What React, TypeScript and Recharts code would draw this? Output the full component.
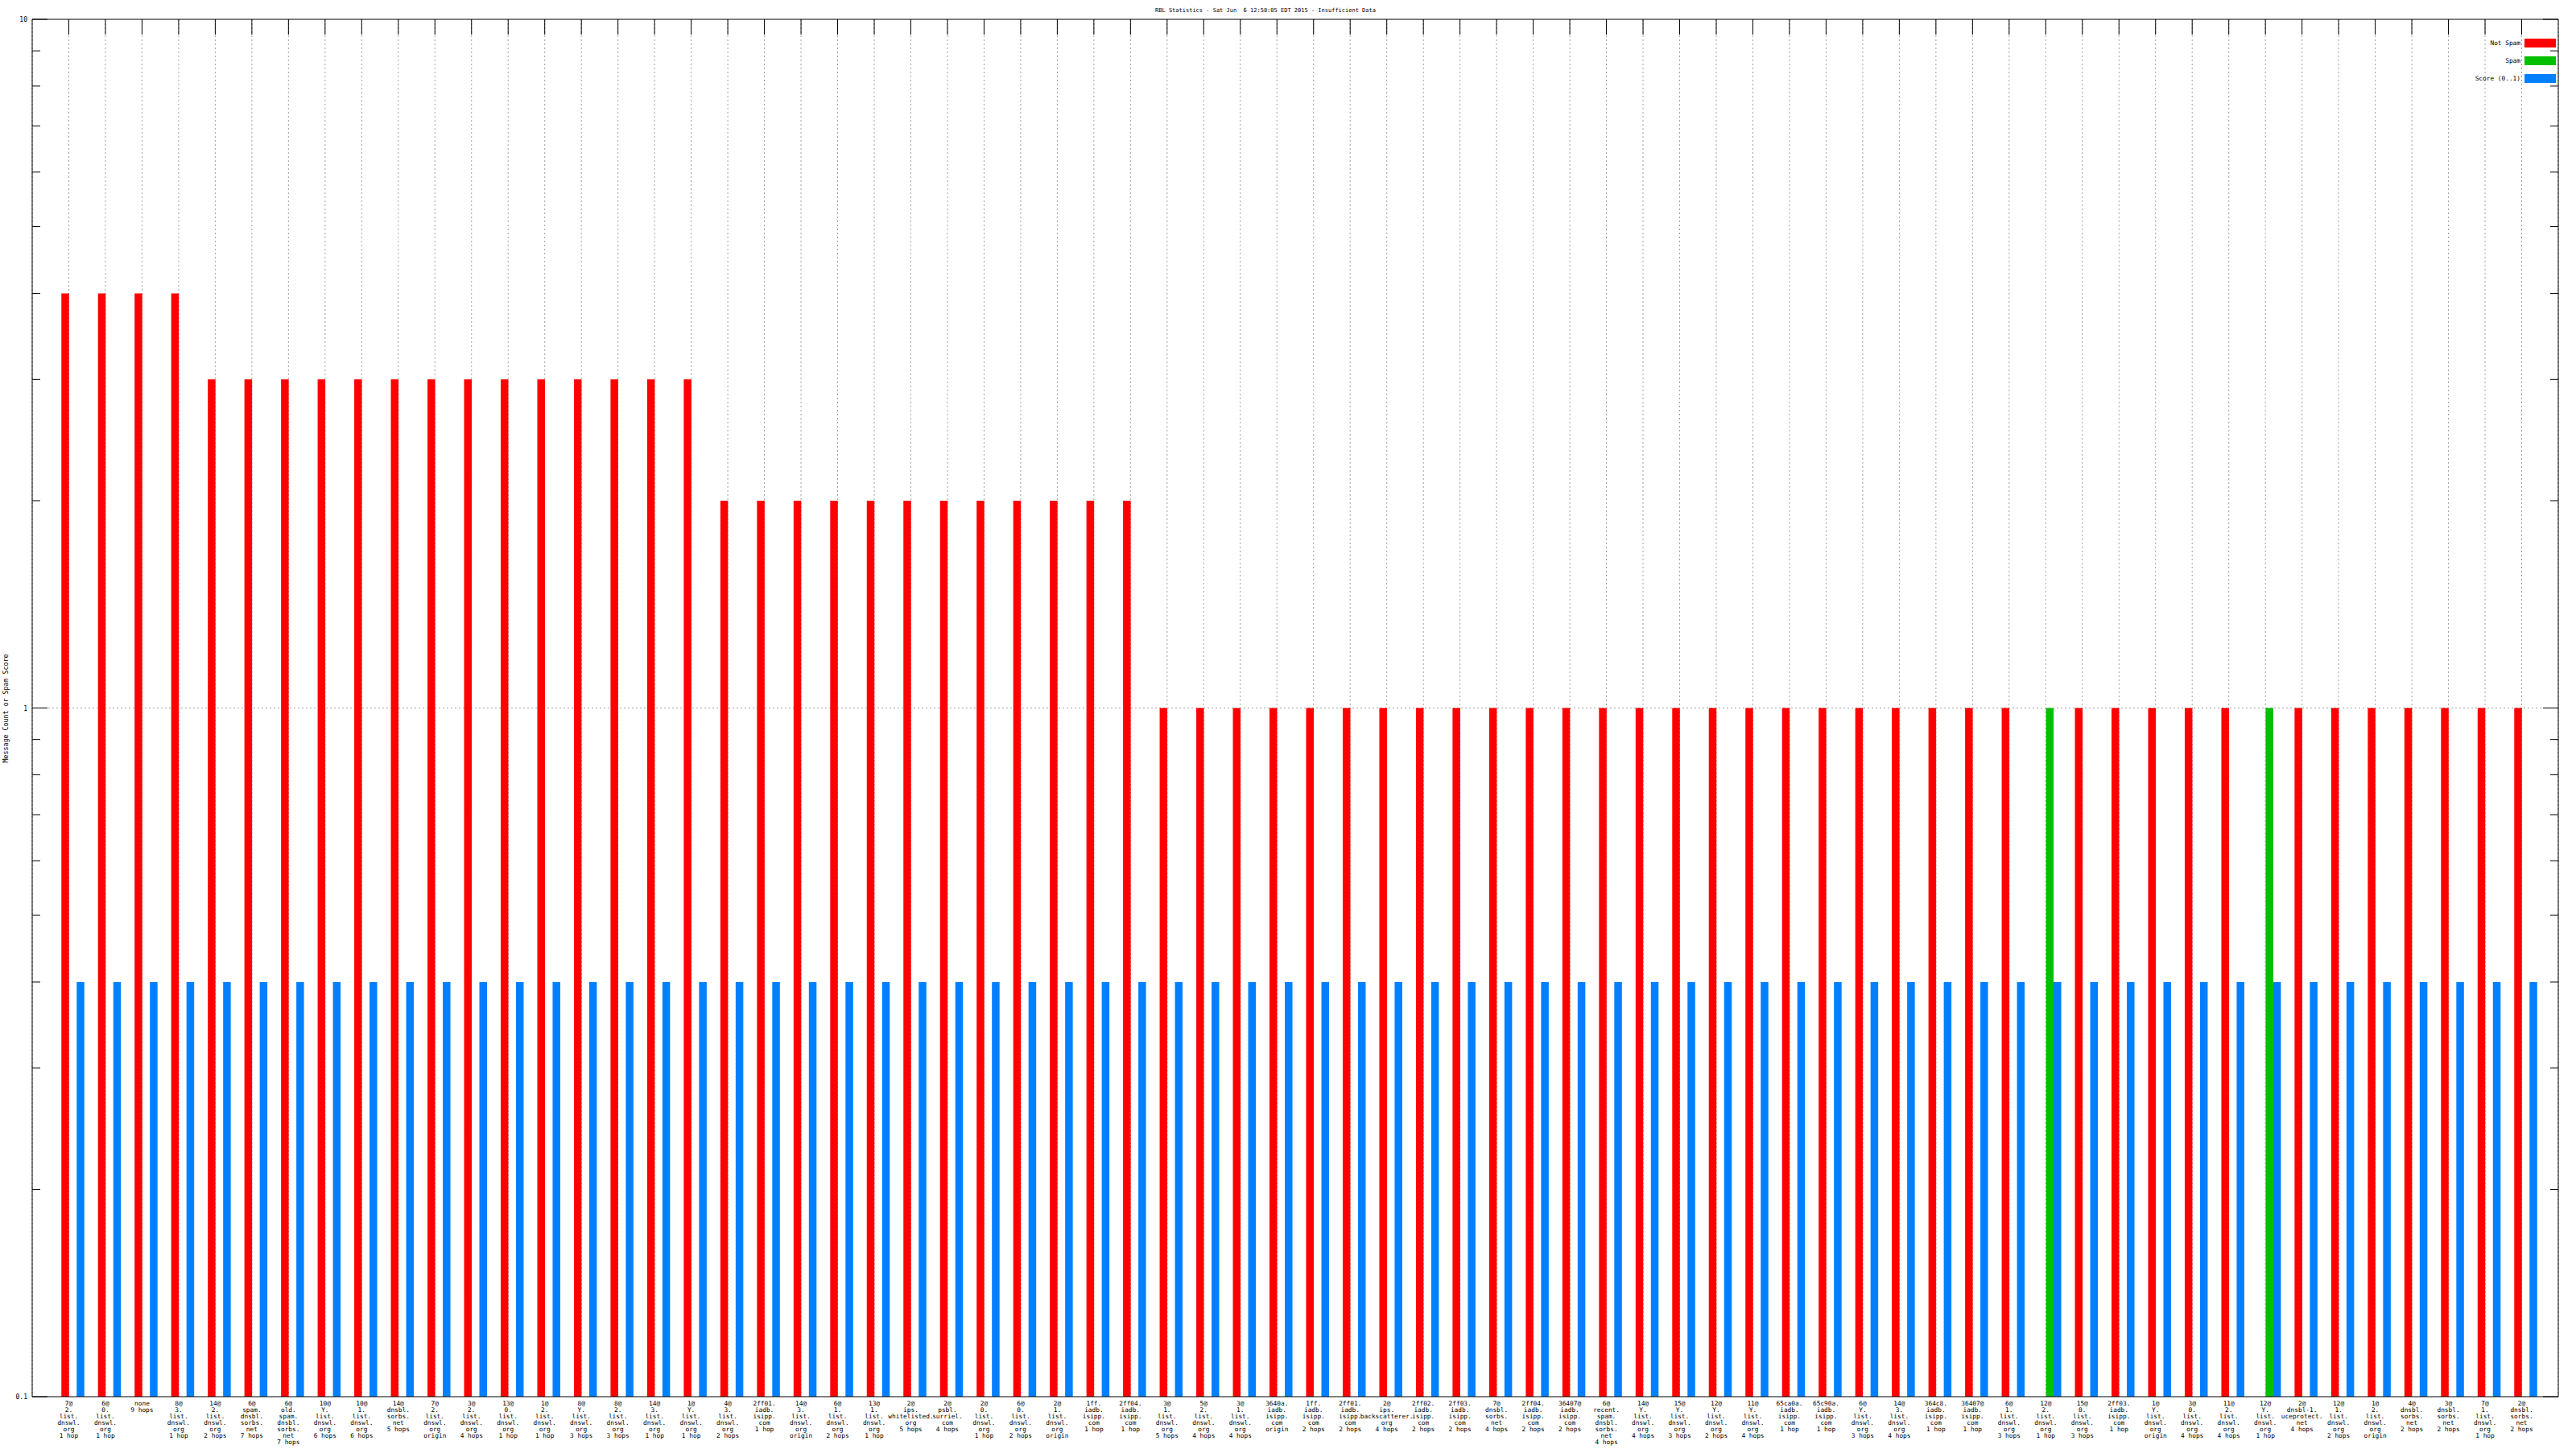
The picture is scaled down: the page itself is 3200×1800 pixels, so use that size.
import React from "react";
import { Bar, BarChart, CartesianGrid, XAxis, YAxis } from "recharts";

const labels = [
  "7@2.list.dnswl.org 1 hop",
  "6@0.list.dnswl.org 1 hop",
  "none 9 hops",
  "8@3.list.dnswl.org 1 hop",
  "14@2.list.dnswl.org 2 hops",
  "6@spam.dnsbl.sorbs.net 7 hops",
  "6@old.spam.dnsbl.sorbs.net 7 hops",
  "10@Y.list.dnswl.org 6 hops",
  "10@1.list.dnswl.org 6 hops",
  "14@dnsbl.sorbs.net 5 hops",
  "7@2.list.dnswl.org origin",
  "3@2.list.dnswl.org 4 hops",
  "13@0.list.dnswl.org 1 hop",
  "1@2.list.dnswl.org 1 hop",
  "8@Y.list.dnswl.org 3 hops",
  "8@2.list.dnswl.org 3 hops",
  "14@3.list.dnswl.org 1 hop",
  "1@Y.list.dnswl.org 1 hop",
  "4@3.list.dnswl.org 2 hops",
  "2ff01.iadb.isipp.com 1 hop",
  "14@3.list.dnswl.org origin",
  "6@1.list.dnswl.org 2 hops",
  "13@1.list.dnswl.org 1 hop",
  "2@ips.whitelisted.org 5 hops",
  "2@psbl.surriel.com 4 hops",
  "2@0.list.dnswl.org 1 hop",
  "6@0.list.dnswl.org 2 hops",
  "2@1.list.dnswl.org origin",
  "1ff.iadb.isipp.com 1 hop",
  "2ff04.iadb.isipp.com 1 hop",
  "3@1.list.dnswl.org 5 hops",
  "5@2.list.dnswl.org 4 hops",
  "3@1.list.dnswl.org 4 hops",
  "3640a.iadb.isipp.com origin",
  "1ff.iadb.isipp.com 2 hops",
  "2ff01.iadb.isipp.com 2 hops",
  "2@ips.backscatterer.org 4 hops",
  "2ff02.iadb.isipp.com 2 hops",
  "2ff03.iadb.isipp.com 2 hops",
  "7@dnsbl.sorbs.net 4 hops",
  "2ff04.iadb.isipp.com 2 hops",
  "36407@iadb.isipp.com 2 hops",
  "6@recent.spam.dnsbl.sorbs.net 4 hops",
  "14@Y.list.dnswl.org 4 hops",
  "15@Y.list.dnswl.org 3 hops",
  "12@Y.list.dnswl.org 2 hops",
  "11@Y.list.dnswl.org 4 hops",
  "65ca0a.iadb.isipp.com 1 hop",
  "65c90a.iadb.isipp.com 1 hop",
  "6@Y.list.dnswl.org 3 hops",
  "14@3.list.dnswl.org 4 hops",
  "364c8.iadb.isipp.com 1 hop",
  "36407@iadb.isipp.com 1 hop",
  "6@1.list.dnswl.org 3 hops",
  "12@2.list.dnswl.org 1 hop",
  "15@0.list.dnswl.org 3 hops",
  "2ff03.iadb.isipp.com 1 hop",
  "1@Y.list.dnswl.org origin",
  "3@0.list.dnswl.org 4 hops",
  "11@2.list.dnswl.org 4 hops",
  "12@Y.list.dnswl.org 1 hop",
  "2@dnsbl-1.uceprotect.net 4 hops",
  "12@1.list.dnswl.org 2 hops",
  "1@2.list.dnswl.org origin",
  "4@dnsbl.sorbs.net 2 hops",
  "3@dnsbl.sorbs.net 2 hops",
  "7@1.list.dnswl.org 1 hop",
  "2@dnsbl.sorbs.net 2 hops",
];

// message counts, null where the bar is missing
const notSpam = [
  4, 4, 4, 4, 3, 3, 3, 3, 3, 3,
  3, 3, 3, 3, 3, 3, 3, 3, 2, 2,
  2, 2, 2, 2, 2, 2, 2, 2, 2, 2,
  1, 1, 1, 1, 1, 1, 1, 1, 1, 1,
  1, 1, 1, 1, 1, 1, 1, 1, 1, 1,
  1, 1, 1, 1, null, 1, 1, 1, 1, 1,
  null, 1, 1, 1, 1, 1, 1, 1,
];

const spam = [
  null, null, null, null, null, null, null, null, null, null,
  null, null, null, null, null, null, null, null, null, null,
  null, null, null, null, null, null, null, null, null, null,
  null, null, null, null, null, null, null, null, null, null,
  null, null, null, null, null, null, null, null, null, null,
  null, null, null, null, 1, null, null, null, null, null,
  1, null, null, null, null, null, null, null,
];

const score = [
  0.4, 0.4, 0.4, 0.4, 0.4, 0.4, 0.4, 0.4, 0.4, 0.4,
  0.4, 0.4, 0.4, 0.4, 0.4, 0.4, 0.4, 0.4, 0.4, 0.4,
  0.4, 0.4, 0.4, 0.4, 0.4, 0.4, 0.4, 0.4, 0.4, 0.4,
  0.4, 0.4, 0.4, 0.4, 0.4, 0.4, 0.4, 0.4, 0.4, 0.4,
  0.4, 0.4, 0.4, 0.4, 0.4, 0.4, 0.4, 0.4, 0.4, 0.4,
  0.4, 0.4, 0.4, 0.4, 0.4, 0.4, 0.4, 0.4, 0.4, 0.4,
  0.4, 0.4, 0.4, 0.4, 0.4, 0.4, 0.4, 0.4,
];

const majorTicks = [0.1, 1, 10];
const yTicks = [0.1, 0.2, 0.3, 0.4, 0.5, 0.6, 0.7, 0.8, 0.9, 1, 2, 3, 4, 5, 6, 7, 8, 9, 10];

const legendItems = [
  { name: "Not Spam", color: "#ff0000" },
  { name: "Spam", color: "#00c000" },
  { name: "Score (0..1)", color: "#0080ff" },
];

const data = labels.map((label, i) => ({
  label,
  notSpam: notSpam[i],
  spam: spam[i],
  score: score[i],
}));

const FONT = "'DejaVu Sans Mono', monospace";

// "7@2.list.dnswl.org 1 hop" -> ["7@", "2.", "list.", "dnswl.", "org", "1 hop"]
function splitLabel(s: string) {
  const sp = s.indexOf(" ");
  const host = s.slice(0, sp);
  const hops = s.slice(sp + 1);
  return [...host.split(/(?<=[@.])/), hops];
}

const LeftTick = (props: any) => {
  const { x, y, payload } = props;
  const major = majorTicks.includes(payload.value);
  return (
    <g>
      <line x1={x} x2={x + (major ? 19 : 10)} y1={y} y2={y} stroke="#000" />
      {major && (
        <text x={x - 6} y={y + 3} textAnchor="end" fontSize={8} fontFamily={FONT} fill="#000">
          {payload.value}
        </text>
      )}
    </g>
  );
};

const RightTick = (props: any) => {
  const { x, y, payload } = props;
  const major = majorTicks.includes(payload.value);
  return <line x1={x} x2={x - (major ? 19 : 10)} y1={y} y2={y} stroke="#000" />;
};

const TopTick = (props: any) => {
  const { x, y } = props;
  return <line x1={x} x2={x} y1={y} y2={y + 19} stroke="#000" />;
};

const BottomTick = (props: any) => {
  const { x, y, payload } = props;
  const lines = splitLabel(payload.value);
  return (
    <text x={x} y={y + 11} textAnchor="middle" fontSize={7.8} fontFamily={FONT} fill="#000">
      {lines.map((l, i) => (
        <tspan key={i} x={x} dy={i === 0 ? 0 : 8}>
          {l}
        </tspan>
      ))}
    </text>
  );
};

export default function App() {
  return (
    <div style={{ position: "absolute", left: 0, top: 0, width: 3200, height: 1800, background: "#fff" }}>
      <BarChart
        width={3200}
        height={1800}
        data={data}
        margin={{ top: 0, right: 0, bottom: 0, left: 0 }}
        barGap={0}
        barSize={9.5}
      >
        <CartesianGrid
          horizontalValues={[1]}
          stroke="#a0a0a0"
          strokeDasharray="2 3"
        />
        <XAxis
          dataKey="label"
          type="category"
          interval={0}
          height={65}
          padding={{ left: 22.75, right: 22.75 }}
          tickSize={0}
          tickMargin={0}
          tickLine={false}
          axisLine={{ stroke: "#000" }}
          tick={<BottomTick />}
        />
        <XAxis
          xAxisId="top"
          orientation="top"
          dataKey="label"
          type="category"
          interval={0}
          height={24}
          padding={{ left: 22.75, right: 22.75 }}
          tickSize={0}
          tickMargin={0}
          tickLine={false}
          axisLine={{ stroke: "#000" }}
          tick={<TopTick />}
        />
        <YAxis
          scale="log"
          type="number"
          domain={[0.1, 10]}
          allowDataOverflow
          ticks={yTicks}
          interval={0}
          width={40}
          tickSize={0}
          tickMargin={0}
          tickLine={false}
          axisLine={{ stroke: "#000" }}
          tick={<LeftTick />}
        />
        <YAxis
          yAxisId="right"
          orientation="right"
          scale="log"
          type="number"
          domain={[0.1, 10]}
          allowDataOverflow
          ticks={yTicks}
          interval={0}
          width={22}
          tickSize={0}
          tickMargin={0}
          tickLine={false}
          axisLine={{ stroke: "#000" }}
          tick={<RightTick />}
        />
        {/* empty slot so the three series sit where gnuplot put them */}
        <Bar dataKey="pad" fill="none" isAnimationActive={false} />
        <Bar dataKey="notSpam" name="Not Spam" fill="#ff0000" isAnimationActive={false} />
        <Bar dataKey="spam" name="Spam" fill="#00c000" isAnimationActive={false} />
        <Bar dataKey="score" name="Score (0..1)" fill="#0080ff" isAnimationActive={false} />
      </BarChart>

      <div
        style={{
          position: "absolute",
          left: 0,
          top: 8,
          width: 3144,
          textAlign: "center",
          fontFamily: FONT,
          fontSize: 7,
          lineHeight: "10px",
          whiteSpace: "pre",
        }}
      >
        RBL Statistics - Sat Jun  6 12:58:05 EDT 2015 - Insufficient Data
      </div>

      <div
        style={{
          position: "absolute",
          left: 7,
          top: 880,
          transform: "translate(-50%, -50%) rotate(-90deg)",
          fontFamily: FONT,
          fontSize: 8.3,
          lineHeight: "10px",
          whiteSpace: "nowrap",
        }}
      >
        Message Count or Spam Score
      </div>

      <div style={{ position: "absolute", right: 25, top: 42 }}>
        {legendItems.map((it) => (
          <div
            key={it.name}
            style={{ height: 22, display: "flex", alignItems: "center", justifyContent: "flex-end" }}
          >
            <span style={{ fontFamily: FONT, fontSize: 7.8, marginRight: 5 }}>{it.name}</span>
            <span style={{ width: 39, height: 11, background: it.color, display: "inline-block" }} />
          </div>
        ))}
      </div>
    </div>
  );
}
